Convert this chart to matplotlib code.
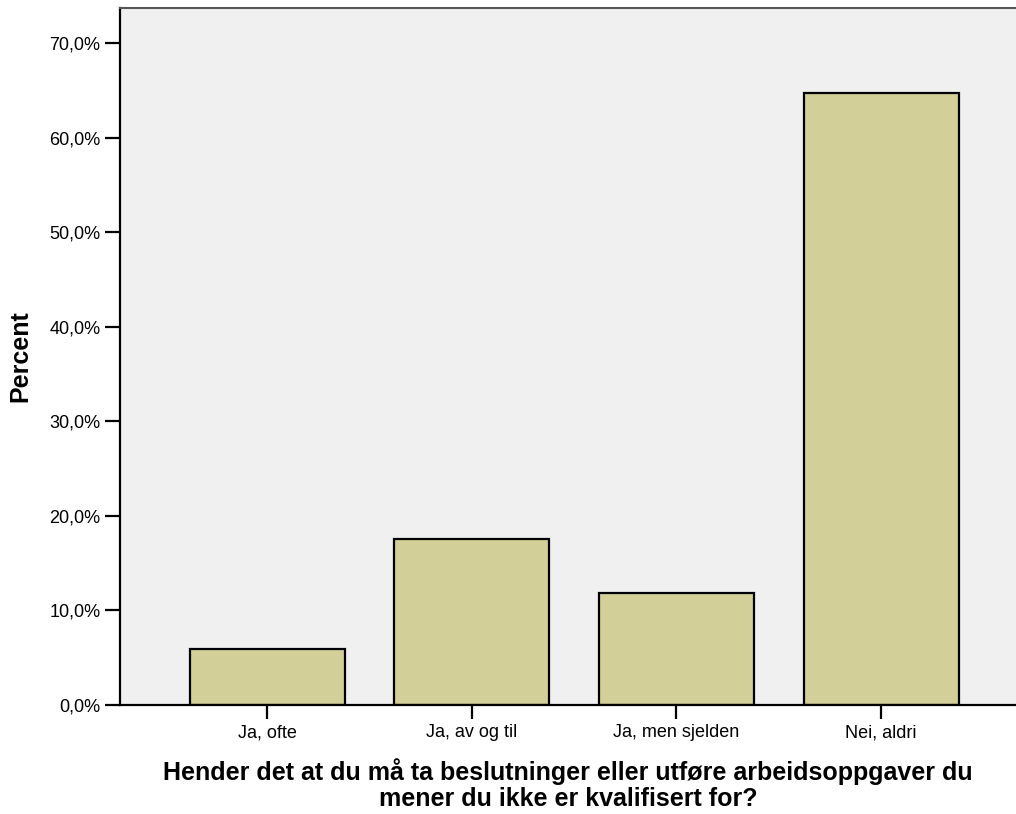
import numpy as np
import matplotlib.pyplot as plt
from matplotlib.ticker import FuncFormatter

categories = ['Ja, ofte', 'Ja, av og til', 'Ja, men sjelden', 'Nei, aldri']
percent = [5.9, 17.6, 11.8, 64.7]
yticks = [0, 10, 20, 30, 40, 50, 60, 70]

plt.rcParams['font.family'] = ['Liberation Sans', 'DejaVu Sans']

fig = plt.figure(figsize=(10.16, 8.14), dpi=100)
ax = fig.add_axes([120 / 1016, 1 - 705 / 814, 1 - 120 / 1016, (705 - 8) / 814])
ax.set_facecolor('#f0f0f0')

locs = np.arange(len(categories))
ax.bar(locs, percent, width=0.758, color='#d3cf98', edgecolor='black',
       linewidth=1.6, zorder=2)

ax.set_xlim(-0.721, 3.66)
ax.set_ylim(0, 73.7)
ax.set_yticks(yticks)
ax.yaxis.set_major_formatter(FuncFormatter(lambda v, p: f'{v:.1f}%'.replace('.', ',')))
ax.set_xticks(locs)
ax.set_xticklabels(categories)

ax.tick_params(axis='y', length=11, width=1.6, labelsize=13, pad=3, color='black')
ax.tick_params(axis='x', length=10, width=1.6, labelsize=13, pad=4, color='black')

for side in ('left', 'bottom'):
    ax.spines[side].set_linewidth(1.6)
    ax.spines[side].set_color('black')
ax.spines['top'].set_color('#555555')
ax.spines['top'].set_linewidth(1.5)
ax.spines['right'].set_visible(False)

ax.set_ylabel('Percent', fontsize=18, fontweight='bold', labelpad=12)
ax.set_xlabel('Hender det at du må ta beslutninger eller utføre arbeidsoppgaver du\n'
              'mener du ikke er kvalifisert for?', fontsize=18, fontweight='bold',
              labelpad=12, linespacing=1.13)

fig.savefig('out.png', dpi=100)
